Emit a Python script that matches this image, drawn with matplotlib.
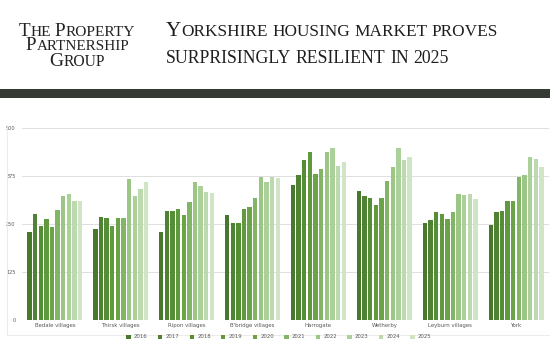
import matplotlib
matplotlib.use("Agg")
import matplotlib.pyplot as plt
import numpy as np
from matplotlib.patches import Rectangle, Patch
from matplotlib.lines import Line2D
from matplotlib.transforms import IdentityTransform
from matplotlib.font_manager import FontProperties

categories = ["Bedale villages", "Thirsk villages", "Ripon villages", "B'bridge villages",
              "Harrogate", "Wetherby", "Leyburn villages", "York"]
years = ["2016", "2017", "2018", "2019", "2020", "2021", "2022", "2023", "2024", "2025"]
bedale = [229, 276, 246, 265, 242, 287, 325, 329, 311, 311]
thirsk = [237, 268, 267, 246, 267, 267, 368, 325, 341, 359]
ripon = [229, 285, 284, 290, 275, 307, 360, 350, 335, 332]
bbridge = [275, 253, 253, 289, 296, 319, 374, 359, 374, 370]
harrogate = [353, 379, 417, 437, 382, 393, 439, 449, 403, 412]
wetherby = [337, 325, 318, 299, 319, 362, 398, 449, 418, 426]
leyburn = [253, 261, 283, 276, 265, 281, 330, 326, 328, 316]
york = [249, 281, 284, 311, 311, 374, 379, 424, 419, 400]
yticks = [0, 125, 250, 375, 500]

colors = ["#48782c", "#4f8333", "#568d37", "#5f9a3e", "#6aa446", "#82b565",
          "#9cc686", "#abd09a", "#bdd9b0", "#d0e4c6"]

W, H = 550, 350
fig = plt.figure(figsize=(5.5, 3.5), dpi=100)
fig.patch.set_facecolor("white")
renderer = fig.canvas.get_renderer()

SERIF = "Liberation Serif"


def tw(s, size):
    fp = FontProperties(family=SERIF, size=size)
    w, h, d = renderer.get_text_width_height_descent(s, fp, ismath=False)
    return w


def sc_pieces(text, big, small):
    pieces = []
    x = 0.0
    words = text.split(" ")
    for wi, word in enumerate(words):
        if wi > 0:
            x += tw("H H", small) - tw("HH", small)
        runs = []
        for ch in word:
            isbig = ch.isupper()
            if runs and runs[-1][1] == isbig:
                runs[-1][0] += ch
            else:
                runs.append([ch, isbig])
        for s, isbig in runs:
            size = big if isbig else small
            s2 = s.upper()
            pieces.append((x, s2, size))
            x += tw(s2, size)
    return pieces, x


def sc_text(x, ybase, text, big, small, color, align="left", target_w=None):
    pieces, total = sc_pieces(text, big, small)
    if target_w is not None:
        k = target_w / total
        pieces, total = sc_pieces(text, big * k, small * k)
    x0 = x if align == "left" else x - total / 2
    for px, s, size in pieces:
        fig.text(x0 + px, H - ybase, s, fontsize=size, family=SERIF, color=color,
                 va="baseline", ha="left", transform=IdentityTransform())


# header texts
sc_text(77, 36, "The Property", 12.5, 10, "#222222", align="center", target_w=116)
sc_text(77.5, 50.5, "Partnership", 12.5, 10, "#222222", align="center", target_w=103)
sc_text(77, 66, "Group", 12.5, 10, "#222222", align="center", target_w=56)
sc_text(166, 36.5, "Yorkshire housing market proves", 17, 14, "#1e1e1e", target_w=333)
sc_text(166, 63, "surprisingly resilient in 2025", 17, 14, "#1e1e1e", target_w=285)

# dark band
fig.patches.append(Rectangle((0, 1 - 98 / H), 1, 9 / H, transform=fig.transFigure,
                             facecolor="#363a35", edgecolor="none", zorder=0))
# chart panel border (left and bottom)
fig.lines.append(Line2D([7 / W, 7 / W, 1], [1 - 125 / H, 1 - 335 / H, 1 - 335 / H],
                        transform=fig.transFigure, color="#e8e8e8", lw=0.6))

# chart
ax = fig.add_axes([21.85 / W, 1 - 320.3 / H, (549 - 21.85) / W, (320.3 - 128.3) / H])
series = np.array([bedale, thirsk, ripon, bbridge, harrogate, wetherby, leyburn, york]).T
x = np.arange(len(categories))
slot = 0.854 / len(years)
for i, yr in enumerate(years):
    ax.bar(x - 0.427 + slot * (i + 0.5), series[i], width=slot * 0.78,
           color=colors[i], zorder=3, label=yr)

ax.set_xlim(-0.5, len(categories) - 0.5)
ax.set_ylim(0, 500)
ax.set_yticks(yticks)
ax.set_yticklabels([str(v) for v in yticks], fontsize=3.6, color="#595959")
ax.set_xticks(x)
ax.set_xticklabels(categories, fontsize=3.9, color="#595959")
ax.tick_params(axis="y", length=0, pad=4.5)
ax.tick_params(axis="x", length=0, pad=1.8)
ax.grid(axis="y", color="#d9d9d9", lw=0.6, zorder=0)
for s in ax.spines.values():
    s.set_visible(False)
ax.set_facecolor("none")

handles = [Patch(facecolor=colors[i], edgecolor="none", label=years[i]) for i in range(len(years))]
fig.legend(handles=handles, loc="center", bbox_to_anchor=(279 / W, 1 - 337 / H), ncol=10,
           fontsize=3.9, frameon=False, handlelength=0.8, handleheight=0.8,
           handletextpad=0.6, columnspacing=1.9, labelcolor="#595959")

fig.savefig("out.png", dpi=100, facecolor="white")
